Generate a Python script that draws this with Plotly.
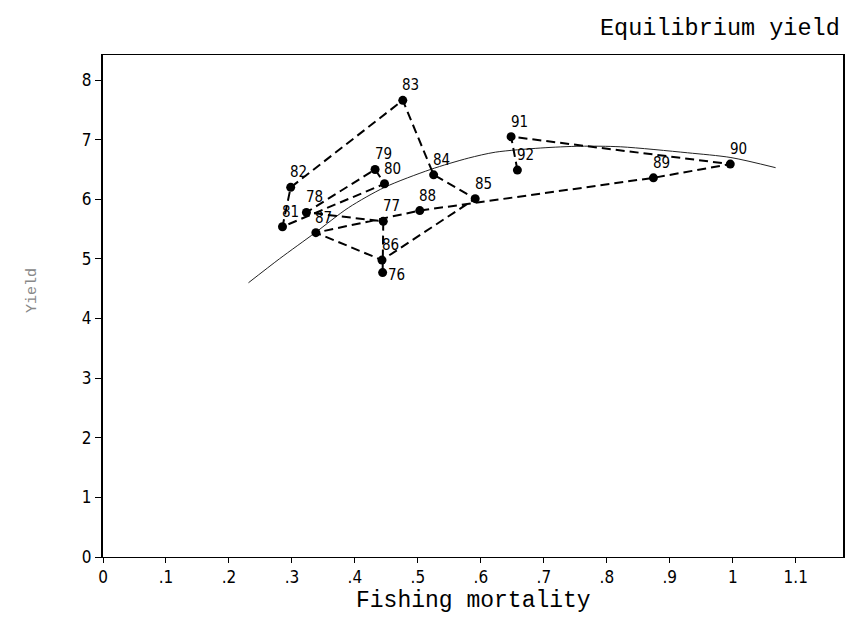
import plotly.graph_objects as go

# Stock trajectory (fishing mortality vs yield), labelled by year
years = ["76", "77", "78", "79", "80", "81", "82", "83", "84", "85",
         "86", "87", "88", "89", "90", "91", "92"]
fishing_mortality = [0.444, 0.445, 0.323, 0.432, 0.447, 0.285, 0.298, 0.476, 0.525, 0.591,
                     0.443, 0.338, 0.503, 0.874, 0.996, 0.648, 0.658]
yield_values = [4.77, 5.63, 5.78, 6.50, 6.26, 5.54, 6.20, 7.66, 6.41, 6.01,
                4.98, 5.44, 5.81, 6.36, 6.59, 7.05, 6.49]

# Equilibrium yield curve
eq_f = [0.231, 0.28, 0.337, 0.39, 0.447, 0.52, 0.58, 0.623, 0.695, 0.758, 0.822, 0.928, 0.997, 1.068]
eq_y = [4.60, 5.00, 5.44, 5.86, 6.20, 6.50, 6.69, 6.79, 6.86, 6.89, 6.88, 6.78, 6.70, 6.53]

x_tickvals = [0, 0.1, 0.2, 0.3, 0.4, 0.5, 0.6, 0.7, 0.8, 0.9, 1.0, 1.1]
x_ticktext = ["0", ".1", ".2", ".3", ".4", ".5", ".6", ".7", ".8", ".9", "1", "1.1"]
y_tickvals = [0, 1, 2, 3, 4, 5, 6, 7, 8]

narrow = "Liberation Sans Narrow, DejaVu Sans Condensed, Arial Narrow, sans-serif"
mono = "Liberation Mono, DejaVu Sans Mono, monospace"

fig = go.Figure()

fig.add_trace(go.Scatter(
    x=eq_f, y=eq_y, mode="lines",
    line=dict(color="#222222", width=1, shape="spline", smoothing=0.8),
    hoverinfo="skip", showlegend=False,
))

fig.add_trace(go.Scatter(
    x=fishing_mortality, y=yield_values, mode="lines+markers",
    line=dict(color="black", width=2, dash="9px,5px"),
    marker=dict(color="black", size=9),
    text=years, hovertemplate="%{text}: F=%{x}, Y=%{y}<extra></extra>",
    showlegend=False,
))

annotations = []
for yr, fx, yv in zip(years, fishing_mortality, yield_values):
    if yr == "76":
        xs, ys = 14, -2
    else:
        xs, ys = 8, 15
    annotations.append(dict(
        text=yr, x=fx, y=yv, xref="x", yref="y", showarrow=False,
        xshift=xs, yshift=ys, font=dict(family=narrow, size=15, color="black"),
    ))

annotations.append(dict(
    text="Equilibrium yield", xref="paper", yref="paper",
    x=1.0, y=1.0, xanchor="right", yanchor="middle", yshift=27, xshift=-1,
    showarrow=False, font=dict(family=mono, size=23.5, color="black"),
))
annotations.append(dict(
    text="Yield", xref="paper", yref="paper", textangle=-90,
    x=0, y=0.53, xanchor="center", yanchor="middle", xshift=-70,
    showarrow=False, font=dict(family=mono, size=15, color="#888888"),
))
annotations.append(dict(
    text="Fishing mortality", xref="paper", yref="paper",
    x=0.5, y=0, xanchor="center", yanchor="middle", yshift=-44,
    showarrow=False, font=dict(family=mono, size=23, color="black"),
))

fig.update_layout(
    width=851, height=618,
    margin=dict(l=103, r=8, t=55, b=61, autoexpand=False),
    paper_bgcolor="white", plot_bgcolor="white",
    font=dict(family=narrow, size=16, color="black"),
    annotations=annotations,
)

fig.update_xaxes(
    range=[0, 1.175], tickvals=x_tickvals, ticktext=x_ticktext,
    ticks="outside", ticklen=5, tickcolor="black",
    showline=True, linecolor="black", linewidth=1, mirror=True,
    showgrid=False, zeroline=False, automargin=False,
    tickfont=dict(family=narrow, size=17),
)
fig.update_yaxes(
    range=[0, 8.42], tickvals=y_tickvals,
    ticks="outside", ticklen=6, tickcolor="black",
    showline=True, linecolor="black", linewidth=2, mirror=True,
    showgrid=False, zeroline=False, automargin=False,
    tickfont=dict(family=narrow, size=17),
)

fig.write_html(
    "out.html",
    config={"displayModeBar": False},
    post_script="document.body.style.margin='0';document.body.style.overflow='hidden';",
)
